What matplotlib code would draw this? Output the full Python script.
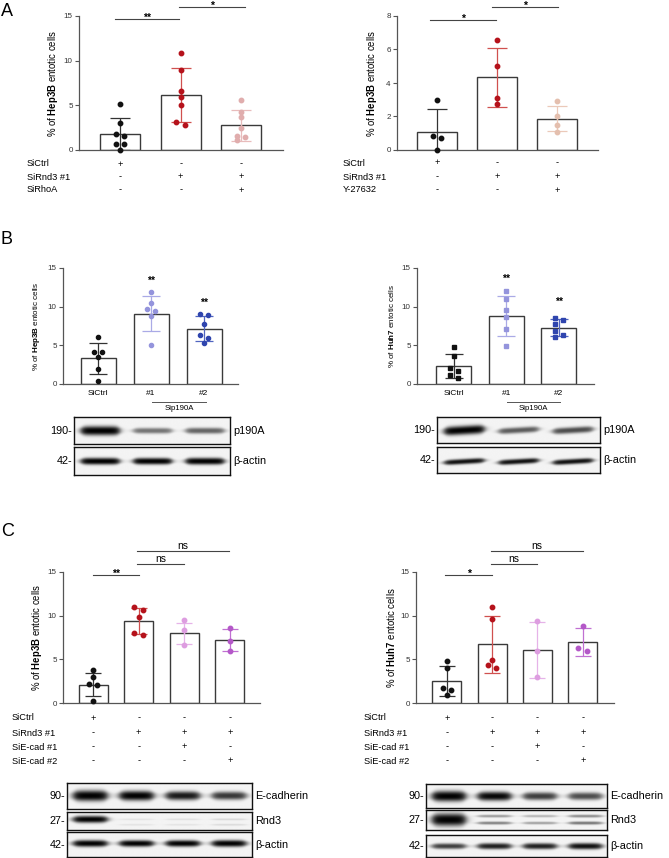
import numpy as np
import matplotlib
matplotlib.use('Agg')
import matplotlib.pyplot as plt
from matplotlib.transforms import blended_transform_factory

plt.rcParams['font.family'] = ['Liberation Sans', 'DejaVu Sans']
plt.rcParams['mathtext.fontset'] = 'custom'
plt.rcParams['mathtext.rm'] = 'Liberation Sans'
plt.rcParams['mathtext.bf'] = 'Liberation Sans:bold'

W, H = 669, 858

# ---------------- данные ----------------
# A, слева (SiRhoA)
a1_mean = [1.8, 6.15, 2.76]
a1_sd = [1.8, 3.0, 1.72]
a1_points = [[5.2, 3.0, 1.8, 1.6, 0.7, 0.65, 0.0],
             [10.9, 9.0, 6.6, 5.9, 5.0, 3.1, 2.75],
             [5.55, 4.3, 3.65, 2.5, 1.55, 1.4, 1.1]]
a1_rows = ['SiCtrl', 'SiRnd3 #1', 'SiRhoA']
a1_table = [['+', '-', '-'], ['-', '+', '+'], ['-', '-', '+']]

# A, справа (Y-27632)
a2_mean = [1.08, 4.33, 1.88]
a2_sd = [1.34, 1.78, 0.77]
a2_points = [[3.0, 0.82, 0.72, 0.0],
             [6.57, 5.0, 3.11, 2.77],
             [2.9, 2.0, 1.5, 1.08]]
a2_rows = ['SiCtrl', 'SiRnd3 #1', 'Y-27632']
a2_table = [['+', '-', '-'], ['-', '+', '+'], ['-', '-', '+']]

# B, слева (Hep3B)
b_groups = ['SiCtrl', '#1', '#2']
b1_mean = [3.3, 9.1, 7.17]
b1_sd = [1.95, 2.3, 1.63]
b1_points = [[6.05, 4.2, 4.15, 3.5, 2.0, 0.45],
             [11.85, 10.5, 9.74, 9.4, 8.8, 5.0],
             [9.0, 8.95, 7.8, 6.3, 6.0, 5.3]]
b1_stars = ['', '**', '**']
b1_star_y = [0, 13.3, 10.5]

# B, справа (Huh7)
b2_mean = [2.32, 8.84, 7.3]
b2_sd = [1.52, 2.6, 1.05]
b2_points = [[4.76, 3.65, 2.1, 1.67, 1.2, 0.73],
             [12.06, 11.0, 9.6, 8.63, 7.08, 4.94],
             [8.58, 8.3, 7.8, 6.87, 6.4, 6.1]]
b2_stars = ['', '**', '**']
b2_star_y = [0, 13.6, 10.6]

# C, слева (Hep3B)
c1_mean = [2.1, 9.4, 8.0, 7.2]
c1_sd = [1.3, 1.45, 1.2, 1.3]
c1_points = [[3.74, 2.94, 2.14, 2.06, 0.19],
             [10.95, 10.7, 9.8, 8.0, 7.8],
             [9.5, 8.4, 6.6],
             [8.6, 7.1, 5.95]]
# C, справа (Huh7)
c2_mean = [2.52, 6.72, 6.07, 7.0]
c2_sd = [1.68, 3.27, 3.2, 1.6]
c2_points = [[4.77, 4.05, 1.72, 1.45, 0.92],
             [11.0, 9.58, 4.96, 4.35, 3.97],
             [9.39, 5.95, 2.94],
             [8.85, 6.26, 5.95]]
c_rows = ['SiCtrl', 'SiRnd3 #1', 'SiE-cad #1', 'SiE-cad #2']
c_table = [['+', '-', '-', '-'], ['-', '+', '+', '+'],
           ['-', '-', '+', '-'], ['-', '-', '-', '+']]

# западные блоты: относительная интенсивность полос по дорожкам
b1_p190 = [1.0, 0.42, 0.47]
b1_actin = [0.9, 0.85, 0.9]
b2_p190 = [1.0, 0.5, 0.55]
b2_actin = [0.75, 0.75, 0.75]
c1_ecad = [1.0, 0.85, 0.72, 0.62]
c1_rnd3 = [0.95, 0.0, 0.0, 0.0]
c1_rnd3_upper = [0.0, 0.06, 0.07, 0.1]
c1_rnd3_lower = [0.0, 0.06, 0.06, 0.09]
c1_actin = [0.85, 0.8, 0.8, 0.85]
c2_ecad = [1.0, 0.78, 0.6, 0.55]
c2_rnd3 = [1.0, 0.0, 0.0, 0.0]
c2_rnd3_upper = [0.0, 0.3, 0.22, 0.35]
c2_rnd3_lower = [0.0, 0.38, 0.28, 0.42]
c2_actin = [0.6, 0.7, 0.7, 0.75]

# цвета
BLACK = '#111111'
RED, RED_E = '#b5121b', '#d0504f'

fig = plt.figure(figsize=(W / 100, H / 100), dpi=100)


def px_axes(x0, y0, x1, y1):
    return fig.add_axes([x0 / W, 1 - y1 / H, (x1 - x0) / W, (y1 - y0) / H])


def spread(vals, thr, dx):
    # близкие по значению точки раздвигаем влево/вправо
    vals = np.asarray(vals, dtype=float)
    order = np.argsort(-vals, kind='stable')
    offs = np.zeros(len(vals))
    groups, group = [], [order[0]]
    for k in order[1:]:
        if vals[group[-1]] - vals[k] < thr:
            group.append(k)
        else:
            groups.append(group)
            group = [k]
    groups.append(group)
    for g in groups:
        if len(g) > 1:
            for j, k in enumerate(g):
                offs[k] = -dx if j % 2 == 0 else dx
    return offs


def bar_panel(ax, means, sds, points, colors, ecolors, ymax, yticks, xlim,
              width, capsize, dx, marker='o', ms=3.2):
    x = np.arange(len(means))
    ax.bar(x, means, width=width, color='white', edgecolor='#3a3a3a',
           linewidth=1.0, zorder=1)
    for i in range(len(means)):
        ax.errorbar(x[i], means[i], yerr=sds[i], color=ecolors[i],
                    capsize=capsize, elinewidth=0.9, capthick=0.9, zorder=2)
        offs = spread(points[i], 0.035 * ymax, dx)
        ax.plot(x[i] + offs, points[i], marker, color=colors[i], ms=ms,
                ls='none', zorder=3, clip_on=False)
    ax.set_xlim(*xlim)
    ax.set_ylim(0, ymax)
    ax.set_yticks(yticks)
    for s in ['top', 'right']:
        ax.spines[s].set_visible(False)
    for s in ['left', 'bottom']:
        ax.spines[s].set_color('#555555')
        ax.spines[s].set_linewidth(0.9)
    ax.tick_params(axis='y', length=3, width=0.8, color='#555555',
                   labelsize=5.8, labelcolor='#333333', pad=1.5)
    ax.set_xticks([])
    ax.patch.set_alpha(0)


def sig(ax, x0, x1, y, label, fs=7.5):
    ax.plot([x0, x1], [y, y], color='#444444', lw=0.8, clip_on=False)
    star = '*' in label
    ax.annotate(label, ((x0 + x1) / 2, y), xytext=(0, -1.2 if star else 1.5),
                textcoords='offset points', ha='center', va='baseline',
                fontsize=fs, fontweight='bold' if star else 'normal',
                annotation_clip=False)


def cond_table(ax, rows, table, x_px, ys_px, fs=6.7):
    tr = blended_transform_factory(ax.transData, fig.transFigure)
    for r, (name, y) in enumerate(zip(rows, ys_px)):
        fig.text(x_px / W, 1 - y / H, name, fontsize=fs, va='center', ha='left')
        for c, s in enumerate(table[r]):
            ax.text(c, 1 - y / H, s, transform=tr, ha='center', va='center',
                    fontsize=fs)


def blot(box, bands, kda, name, tilt=0.0, fs=7.8):
    # bands: (вертикальная позиция, толщина, интенсивности по дорожкам)
    x0, y0, x1, y1 = box
    ax = px_axes(x0, y0, x1, y1)
    h, w = 60, 400
    yy, xx = np.mgrid[0:h, 0:w]
    yy = yy / h
    xx = xx / w
    img = np.full((h, w), 0.955)
    for ypos, thick, levels in bands:
        n = len(levels)
        for i, lv in enumerate(levels):
            if lv <= 0:
                continue
            cx = (i + 0.5) / n
            half = 0.37 / n
            xprof = (1 / (1 + np.exp(-(xx - (cx - half)) / 0.012))
                     / (1 + np.exp((xx - (cx + half)) / 0.012)))
            yc = ypos - tilt * (xx - cx)
            s = thick * (0.35 + 0.65 * lv) * (0.55 + 0.45 * xprof)
            yprof = np.exp(-np.abs((yy - yc) / s) ** 2.5)
            img -= 0.95 * min(1.0, lv * 1.25) * xprof * yprof
    ax.imshow(np.clip(img, 0, 1), cmap='gray', vmin=0, vmax=1, aspect='auto',
              extent=(0, 1, 0, 1), interpolation='bilinear')
    ax.set_xticks([])
    ax.set_yticks([])
    for s in ax.spines.values():
        s.set_linewidth(1.0)
        s.set_color('#111111')
    yc = 1 - (y0 + y1) / 2 / H
    fig.text((x0 - 2) / W, yc, kda, ha='right', va='center', fontsize=fs)
    fig.text((x1 + 3) / W, yc, name, ha='left', va='center', fontsize=fs)


def ylab(cell):
    return r'% of $\mathbf{' + cell + '}$ entotic cells'


# ---------------- A ----------------
ax = px_axes(79, 16, 283, 150)
bar_panel(ax, a1_mean, a1_sd, a1_points,
          [BLACK, RED, '#e0adad'], ['#333333', RED_E, '#e8bcbc'],
          15, [0, 5, 10, 15], (-0.68, 2.69), 0.66, 7, 0.07)
ax.set_ylabel(ylab('Hep3B'), fontsize=6.9, labelpad=3)
sig(ax, -0.08, 0.98, 14.7, '**')
sig(ax, 0.98, 2.07, 16.0, '*')
cond_table(ax, a1_rows, a1_table, 27, [164, 177, 190])

ax = px_axes(397, 16, 598, 150)
bar_panel(ax, a2_mean, a2_sd, a2_points,
          [BLACK, RED, '#e4bfae'], ['#333333', RED_E, '#ebc9b9'],
          8, [0, 2, 4, 6, 8], (-0.67, 2.68), 0.66, 7, 0.07)
ax.set_ylabel(ylab('Hep3B'), fontsize=6.9, labelpad=5)
sig(ax, -0.12, 0.98, 7.76, '*')
sig(ax, 0.92, 2.02, 8.52, '*')
cond_table(ax, a2_rows, a2_table, 343, [163, 177, 190])

# ---------------- B ----------------
B_COL = [BLACK, '#9494dc', '#2f45ae']
B_ECOL = ['#333333', '#aaaae6', '#5065c0']
for box, mean, sd, pts, stars, sy, cell, mk, lx, xl in [
        ((63, 268, 238, 384), b1_mean, b1_sd, b1_points, b1_stars, b1_star_y,
         'Hep3B', 'o', (152, 206), (-0.66, 2.64)),
        ((417, 268, 594, 384), b2_mean, b2_sd, b2_points, b2_stars, b2_star_y,
         'Huh7', 's', (507, 560), (-0.70, 2.67))]:
    ax = px_axes(*box)
    bar_panel(ax, mean, sd, pts, B_COL, B_ECOL, 15, [0, 5, 10, 15],
              xl, 0.66, 6.5, 0.08, marker=mk, ms=3.0)
    ax.set_xticks(range(3))
    ax.set_xticklabels(b_groups, fontsize=6)
    ax.tick_params(axis='x', length=0, pad=4)
    ax.set_ylabel(ylab(cell), fontsize=5.8, labelpad=4)
    for i, (s, y) in enumerate(zip(stars, sy)):
        if s:
            ax.text(i, y, s, ha='center', va='center', fontsize=7.5,
                    fontweight='bold')
    fig.add_artist(plt.Line2D([lx[0] / W, lx[1] / W], [1 - 402 / H, 1 - 402 / H],
                              color='#555555', lw=0.7))
    fig.text((lx[0] + lx[1]) / 2 / W, 1 - 409 / H, 'Sip190A', ha='center',
             va='center', fontsize=5.6)

blot((74, 417, 230, 444), [(0.5, 0.17, b1_p190)], '190-', 'p190A')
blot((74, 447, 230, 475), [(0.5, 0.13, b1_actin)], '42-', 'β-actin')
blot((437, 417, 600, 443), [(0.5, 0.17, b2_p190)], '190-', 'p190A', tilt=0.35)
blot((437, 447, 600, 473), [(0.55, 0.12, b2_actin)], '42-', 'β-actin', tilt=0.35)

# ---------------- C ----------------
C_COL = [BLACK, RED, '#dd9de0', '#b458c8']
C_ECOL = ['#333333', RED_E, '#e6b3e8', '#c070d2']
ax = px_axes(63, 572, 260, 703)
bar_panel(ax, c1_mean, c1_sd, c1_points, C_COL, C_ECOL, 15, [0, 5, 10, 15],
          (-0.66, 3.66), 0.64, 5.5, 0.095)
ax.set_ylabel(ylab('Hep3B'), fontsize=6.9, labelpad=3)
sig(ax, 0.0, 1.0, 14.6, '**')
sig(ax, 0.96, 2.0, 15.95, 'ns')
sig(ax, 0.96, 2.98, 17.4, 'ns')
cond_table(ax, c_rows, c_table, 12, [718, 733, 747, 761])

ax = px_axes(416, 572, 614, 703)
bar_panel(ax, c2_mean, c2_sd, c2_points, C_COL, C_ECOL, 15, [0, 5, 10, 15],
          (-0.68, 3.69), 0.64, 5.5, 0.095)
ax.set_ylabel(ylab('Huh7'), fontsize=6.9, labelpad=3)
sig(ax, -0.04, 1.0, 14.6, '*')
sig(ax, 0.97, 2.0, 15.95, 'ns')
sig(ax, 0.97, 3.0, 17.4, 'ns')
cond_table(ax, c_rows, c_table, 364, [718, 733, 747, 761])

blot((67, 783, 252, 809), [(0.5, 0.2, c1_ecad)], '90-', 'E-cadherin')
blot((67, 812, 252, 830),
     [(0.4, 0.2, c1_rnd3), (0.4, 0.12, c1_rnd3_upper), (0.7, 0.12, c1_rnd3_lower)],
     '27-', 'Rnd3')
blot((67, 832, 252, 857), [(0.45, 0.15, c1_actin)], '42-', 'β-actin')
blot((426, 784, 607, 808), [(0.5, 0.22, c2_ecad)], '90-', 'E-cadherin')
blot((426, 810, 607, 830),
     [(0.5, 0.3, c2_rnd3), (0.33, 0.12, c2_rnd3_upper), (0.66, 0.12, c2_rnd3_lower)],
     '27-', 'Rnd3')
blot((426, 835, 607, 857), [(0.5, 0.17, c2_actin)], '42-', 'β-actin')

# буквы панелей
for letter, y in [('A', 12), ('B', 239), ('C', 532)]:
    fig.text(1 / W, 1 - y / H, letter, fontsize=13, ha='left', va='center')

fig.savefig('out.png', dpi=100)
